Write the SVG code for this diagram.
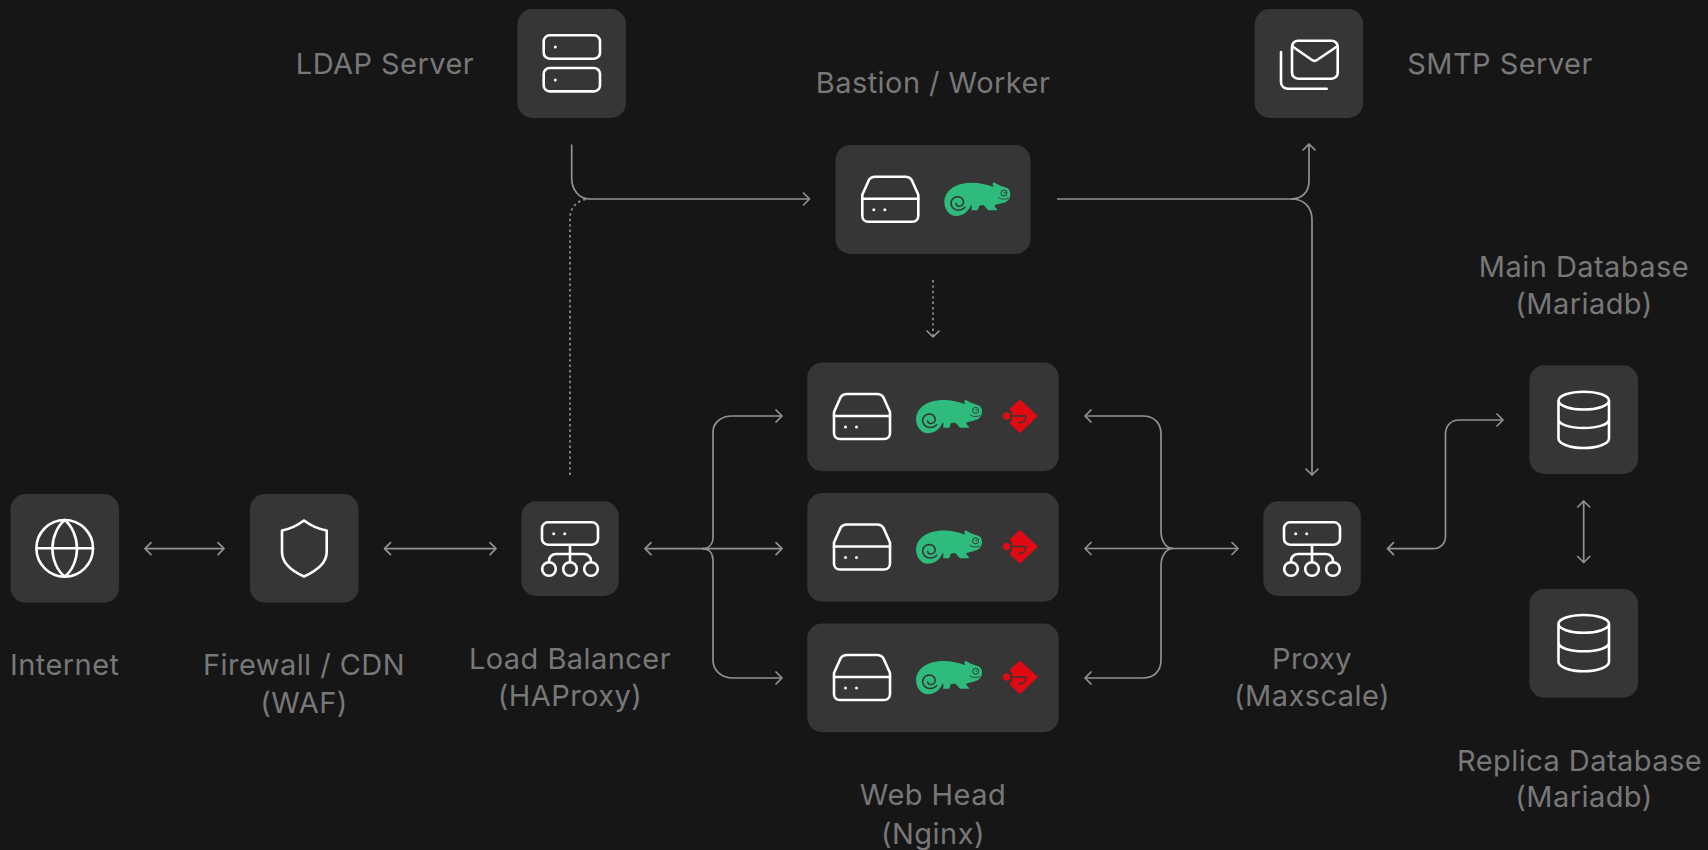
<svg xmlns="http://www.w3.org/2000/svg" xmlns:xlink="http://www.w3.org/1999/xlink" width="1708" height="850" viewBox="0 0 1708 850">
<style>
.box{fill:#363636}
.ic{fill:none;stroke:#fff;stroke-width:2.6;stroke-linecap:round;stroke-linejoin:round}
.dot{fill:#fff}
.lbl{font-family:Inter,"Noto Sans",sans-serif;font-size:29px;letter-spacing:.45px;fill:#787878;text-anchor:middle}
.c{fill:none;stroke:#929292;stroke-width:1.7}
.a{marker-end:url(#arr)}
.b{marker-start:url(#arr);marker-end:url(#arr)}
.d{stroke-dasharray:2.4 3}
</style>
<defs>
<marker id="arr" markerUnits="userSpaceOnUse" viewBox="-9 -8 11 16" refX="0" refY="0" markerWidth="11" markerHeight="16" orient="auto-start-reverse"><path d="M-6-6L0 0L-6 6" fill="none" stroke="#929292" stroke-width="1.7" stroke-linecap="round" stroke-linejoin="round"/></marker>
<g id="drive">
<path class="ic" d="M847 394H877C880 394 882 395 883.500 397.500L890 412V433C890 436.500 887.500 439 884 439H840C836.500 439 834 436.500 834 433V412L840.500 397.500C842 395 844 394 847 394Z"/>
<path class="ic" d="M834 416H890"/>
<circle class="dot" cx="845.500" cy="427" r="1.500"/><circle class="dot" cx="856.500" cy="427" r="1.500"/>
</g>
<g id="cham" transform="translate(780 340) scale(.3333)">
<path fill="#2fbb7c" d="M408 235C410 208 436 184 476 181C505 178 532 184 556 193C553 188 552 183 556 179C568 185 578 191 590 194C602 197 607 205 606 216C605 230 598 238 580 242C572 244 564 245 558 249C561 255 566 258 568 263H540C534 257 531 251 526 248C520 248 516 248 513 249C511 254 510 258 508 263H489C491 256 491 251 488 246C484 262 466 280 444 280C424 280 408 262 408 235Z"/>
<path fill="none" stroke="#363636" stroke-width="4.500" stroke-linecap="round" d="M470 254C460 265 440 266 431 252C423 238 432 223 448 222C462 222 470 236 463 246C456 254 443 251 443 242"/>
<circle cx="587" cy="211" r="9" fill="none" stroke="#363636" stroke-width="3"/>
<circle cx="589" cy="210" r="2.500" fill="#363636"/>
<path fill="none" stroke="#363636" stroke-width="2.500" stroke-linecap="round" d="M570 225C578 231 590 231 600 227"/>
</g>
<g id="git" transform="translate(780 340) scale(.3333)">
<path fill="#e20a12" stroke="#e20a12" stroke-width="3" stroke-linejoin="round" d="M720 180L772 228L720 278L690 250L698 238V218L690 207Z"/>
<circle cx="680" cy="228" r="11" fill="#e20a12"/>
<path fill="none" stroke="#363636" stroke-width="4" d="M696 228H738C738 242 728 249 714 249"/>
</g>
<path id="db" class="ic" d="M1558.500 400.700C1558.500 395.500 1570 391.700 1583.700 391.700C1597.500 391.700 1609 395.500 1609 400.700C1609 405.500 1597.500 409.500 1583.700 409.500C1570 409.500 1558.500 405.500 1558.500 400.700ZM1558.500 400.700V438.500C1558.500 443.800 1570 448 1583.700 448C1597.500 448 1609 443.800 1609 438.500V400.700M1558.500 419.500C1558.500 424.500 1570 428 1583.700 428C1597.500 428 1609 424.500 1609 419.500"/>
<g id="bal">
<rect class="ic" x="542" y="522.300" width="56" height="22.400" rx="6"/>
<circle class="dot" cx="553.700" cy="533.700" r="1.500"/><circle class="dot" cx="564.700" cy="533.700" r="1.500"/>
<path class="ic" d="M570 545V562M549 562V561C549 557 552 554 556 554H584C588 554 591 557 591 561V562"/>
<circle class="ic" cx="549" cy="569" r="6.800"/><circle class="ic" cx="570" cy="569" r="6.800"/><circle class="ic" cx="591" cy="569" r="6.800"/>
</g>
</defs>
<rect width="1708" height="850" fill="#161616"/>
<g id="connectors">
<path class="c b" d="M145 548.700H224"/>
<path class="c b" d="M384.500 548.700H496"/>
<path class="c a" d="M571.700 144.500V178C571.700 190 579 199 590 199H809.500"/>
<path class="c d" d="M570 475V218C570 207 578 200 588 199"/>
<path class="c a" d="M1057 199H1291C1302 199 1309 192 1309 181V144"/>
<path class="c a" d="M1291 199C1304 199 1312 207 1312 220V475"/>
<path class="c a d" d="M933 280V337"/>
<path class="c b" d="M645 548.700H782"/>
<path class="c a" d="M702 548.700C709 548.700 713 544 713 537V432C713 422 722 416 732 416H782"/>
<path class="c a" d="M702 548.700C709 548.700 713 553 713 560V660C713 671 722 678 733 678H782"/>
<path class="c b" d="M1085 548.500H1238"/>
<path class="c a" d="M1173 548.500C1166 548.500 1161 541 1161 531V434C1161 423 1154 416 1143 416H1085"/>
<path class="c a" d="M1173 548.500C1166 548.500 1161 556 1161 566V660C1161 671 1154 678 1143 678H1085"/>
<path class="c b" d="M1387.500 548.700H1433C1440 548.700 1445.500 544 1445.500 536V434C1445.500 426 1451 420 1459 420H1503"/>
<path class="c b" d="M1583.700 501V562.500"/>
</g>
<g id="internet">
<rect class="box" x="10.500" y="494" width="108.500" height="108.700" rx="15"/>
<circle class="ic" cx="64.700" cy="548.300" r="28.300"/>
<path class="ic" d="M64.700 520C72 526 77 537 77 548.300C77 560 72 571 64.700 576.600C57.500 571 52.400 560 52.400 548.300C52.400 537 57.500 526 64.700 520ZM36.400 548.300H93"/>
<text class="lbl" x="64.700" y="675">Internet</text>
</g>
<g id="firewall">
<rect class="box" x="250" y="494" width="108.500" height="108.700" rx="15"/>
<path class="ic" d="M304 520.500C298 525 290 529 282 530.500V552C282 564 294 572 304 576.500C314 572 326.700 564 326.700 552V530.500C318 529 310 525 304 520.500Z"/>
<text class="lbl" x="304" y="675">Firewall / CDN</text>
<text class="lbl" x="304" y="713">(WAF)</text>
</g>
<g id="load-balancer">
<rect class="box" x="521.300" y="501.300" width="97.500" height="94.700" rx="15"/>
<use href="#bal"/>
<text class="lbl" x="570" y="669">Load Balancer</text>
<text class="lbl" x="570" y="706">(HAProxy)</text>
</g>
<g id="ldap">
<rect class="box" x="517.500" y="9" width="108.500" height="109" rx="15"/>
<rect class="ic" x="543.700" y="35.300" width="56.300" height="23.400" rx="6"/>
<rect class="ic" x="543.700" y="68" width="56.300" height="23.400" rx="6"/>
<circle class="dot" cx="555.300" cy="47" r="1.500"/><circle class="dot" cx="555.300" cy="80" r="1.500"/>
<text class="lbl" x="385" y="74">LDAP Server</text>
</g>
<g id="bastion">
<rect class="box" x="835.500" y="145" width="195" height="109" rx="15"/>
<use href="#drive" transform="translate(28.300 -217.300)"/>
<use href="#cham" transform="translate(28.300 -217.300)"/>
<text class="lbl" x="933" y="93">Bastion / Worker</text>
</g>
<g id="smtp">
<rect class="box" x="1254.700" y="9" width="108.500" height="109" rx="15"/>
<rect class="ic" x="1292" y="40.700" width="45.700" height="38" rx="6"/>
<path class="ic" d="M1292.500 46.500L1312 60C1313.500 61 1315.500 61 1317 60L1337 46.500M1281 52V82C1281 86 1284 88.700 1288 88.700H1326.700"/>
<text class="lbl" x="1500" y="74">SMTP Server</text>
</g>
<g id="web-head-1">
<rect class="box" x="807.300" y="362.500" width="251.400" height="108.700" rx="15"/>
<use href="#drive"/><use href="#cham"/><use href="#git"/>
</g>
<g id="web-head-2">
<rect class="box" x="807.300" y="493" width="251.400" height="108.700" rx="15"/>
<use href="#drive" transform="translate(0 130.500)"/><use href="#cham" transform="translate(0 130.500)"/><use href="#git" transform="translate(0 130.500)"/>
</g>
<g id="web-head-3">
<rect class="box" x="807.300" y="623.500" width="251.400" height="108.700" rx="15"/>
<use href="#drive" transform="translate(0 261)"/><use href="#cham" transform="translate(0 261)"/><use href="#git" transform="translate(0 261)"/>
<text class="lbl" x="933" y="805">Web Head</text>
<text class="lbl" x="933" y="844">(Nginx)</text>
</g>
<g id="proxy">
<rect class="box" x="1263.300" y="501.300" width="97.500" height="94.700" rx="15"/>
<use href="#bal" transform="translate(742 0)"/>
<text class="lbl" x="1312" y="669">Proxy</text>
<text class="lbl" x="1312" y="706">(Maxscale)</text>
</g>
<g id="main-db">
<rect class="box" x="1529.500" y="365.300" width="108.500" height="108.700" rx="15"/>
<use href="#db"/>
<text class="lbl" x="1584" y="277">Main Database</text>
<text class="lbl" x="1584" y="314">(Mariadb)</text>
</g>
<g id="replica-db">
<rect class="box" x="1529.500" y="589" width="108.500" height="108.700" rx="15"/>
<use href="#db" transform="translate(0 223.300)"/>
<text class="lbl" x="1579.500" y="771">Replica Database</text>
<text class="lbl" x="1584" y="807">(Mariadb)</text>
</g>
</svg>
